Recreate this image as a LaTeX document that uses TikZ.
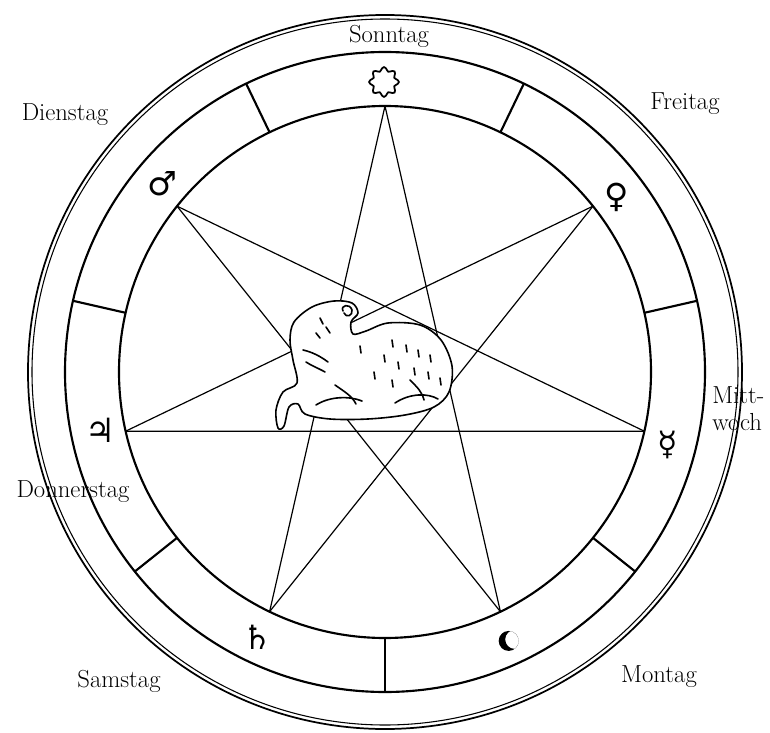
\documentclass[tikz,border=0pt]{standalone}
\usepackage{fontspec}
\newfontfamily\planetfont{DejaVu Sans}
\usetikzlibrary{positioning}

\tikzset{
  dayname/.style={font=\fontsize{18.5}{20.5}\selectfont,inner sep=0pt},
  planet/.style={font=\planetfont\fontsize{25}{28}\selectfont,inner sep=0pt},
  rimline/.style={line width=1.3pt},
  ringline/.style={line width=1.6pt},
  starline/.style={line width=0.9pt},
  ramline/.style={line width=1.2pt,line join=round,line cap=round}
}

\begin{document}
\begin{tikzpicture}[x=0.75pt,y=0.75pt]
\fill[white] (-385,-360) rectangle (385,372);
\useasboundingbox (-385,-360) rectangle (385,372);

% double rim
\draw[rimline] (0,0) circle (357);
\draw[line width=0.8pt] (0,0) circle (353);

% ring with the seven fields
\draw[ringline] (0,0) circle (320);
\draw[ringline] (0,0) circle (266);
\foreach \a in {0,...,6}
  \draw[ringline] (-90+\a*360/7:266) -- (-90+\a*360/7:320);

% corners of the star, clockwise from the top
\foreach \i in {0,...,6}
  \coordinate (v\i) at (90-\i*360/7:266);
% join every third corner
\foreach \i in {0,...,6}{
  \pgfmathtruncatemacro\j{mod(\i+3,7)}
  \draw[starline] (v\i) -- (v\j);
}

% the lamb in the middle
\begin{scope}[shift={(-385,372)},yscale=-1]
  \draw[ramline,fill=white] plot[smooth cycle,tension=0.55] coordinates {
    (294,322) (312,307) (334,301) (352,303) (358,313) (351,322)
    (353,334) (366,331) (388,323) (420,325) (441,340) (452,366)
    (449,392) (434,407) (405,415) (368,419) (330,419) (305,414)
    (298,404) (289,407) (284,426) (278,428) (276,410) (283,392)
    (297,383) (293,360) (290,340)};
  % horn
  \draw[ramline] (343,311) .. controls (340,305) and (350,303) .. (352,310)
    .. controls (353,316) and (346,318) .. (344,313);
  % face
  \draw[ramline] (320,318) -- (323,324);
  \draw[ramline] (326,327) -- (330,333);
  \draw[ramline] (316,333) -- (320,338);
  \draw[ramline] (303,350) .. controls (312,352) and (320,356) .. (328,362);
  \draw[ramline] (306,362) .. controls (312,366) and (318,368) .. (325,372);
  % fur
  \foreach \p/\q in {392/340,406/345,418/350,430/355,384/355,398/362,
                     414/368,428/372,374/372,440/378,360/346,392/380}
    \draw[ramline] (\p,\q) -- (\p+1,\q+7);
  % folded legs
  \draw[ramline] (316,405) .. controls (330,396) and (350,396) .. (362,401);
  \draw[ramline] (335,385) .. controls (345,392) and (352,396) .. (356,404);
  \draw[ramline] (395,403) .. controls (410,393) and (428,393) .. (438,399);
  \draw[ramline] (410,380) .. controls (418,388) and (422,392) .. (424,400);
\end{scope}

% planets in their fields
\node[inner sep=0pt,minimum size=28pt] (sun) at (-1,290) {};
\draw[line width=1.3pt,shift={(sun)}]
  plot[smooth cycle,domain=0:352.5,samples=48]
  (\x:{13+1.9*cos(8*\x)});
\node[planet] (venus) at (37:290) {♀};
\node[planet] (mercury) at (-14.4:292) {☿};
\node[inner sep=0pt,minimum size=20pt] (moon) at (-65.3:296) {};
\begin{scope}
  \clip (moon) circle (10);
  \fill[even odd rule] (moon) circle (10) ([shift={(6,1.5)}]moon) circle (9.5);
\end{scope}
\node[planet] (saturn) at (-115.7:294) {♄};
\node[planet] (jupiter) at (191.6:291) {♃};
\node[planet] (mars) at (139.8:292) {♂};

% names of the days
\node[dayname,anchor=base] (sonntag) at (4,329) {Sonntag};
\node[dayname,anchor=base] (freitag) at (300,262) {Freitag};
\node[dayname,anchor=north west,align=left] (mittwoch) at (327,-14) {Mitt-\\woch};
\node[dayname,anchor=base] (montag) at (274,-310) {Montag};
\node[dayname,anchor=base] (samstag) at (-266,-315) {Samstag};
\node[dayname,anchor=base] (donnerstag) at (-312,-125) {Donnerstag};
\node[dayname,anchor=base] (dienstag) at (-320,251) {Dienstag};
\end{tikzpicture}
\end{document}
